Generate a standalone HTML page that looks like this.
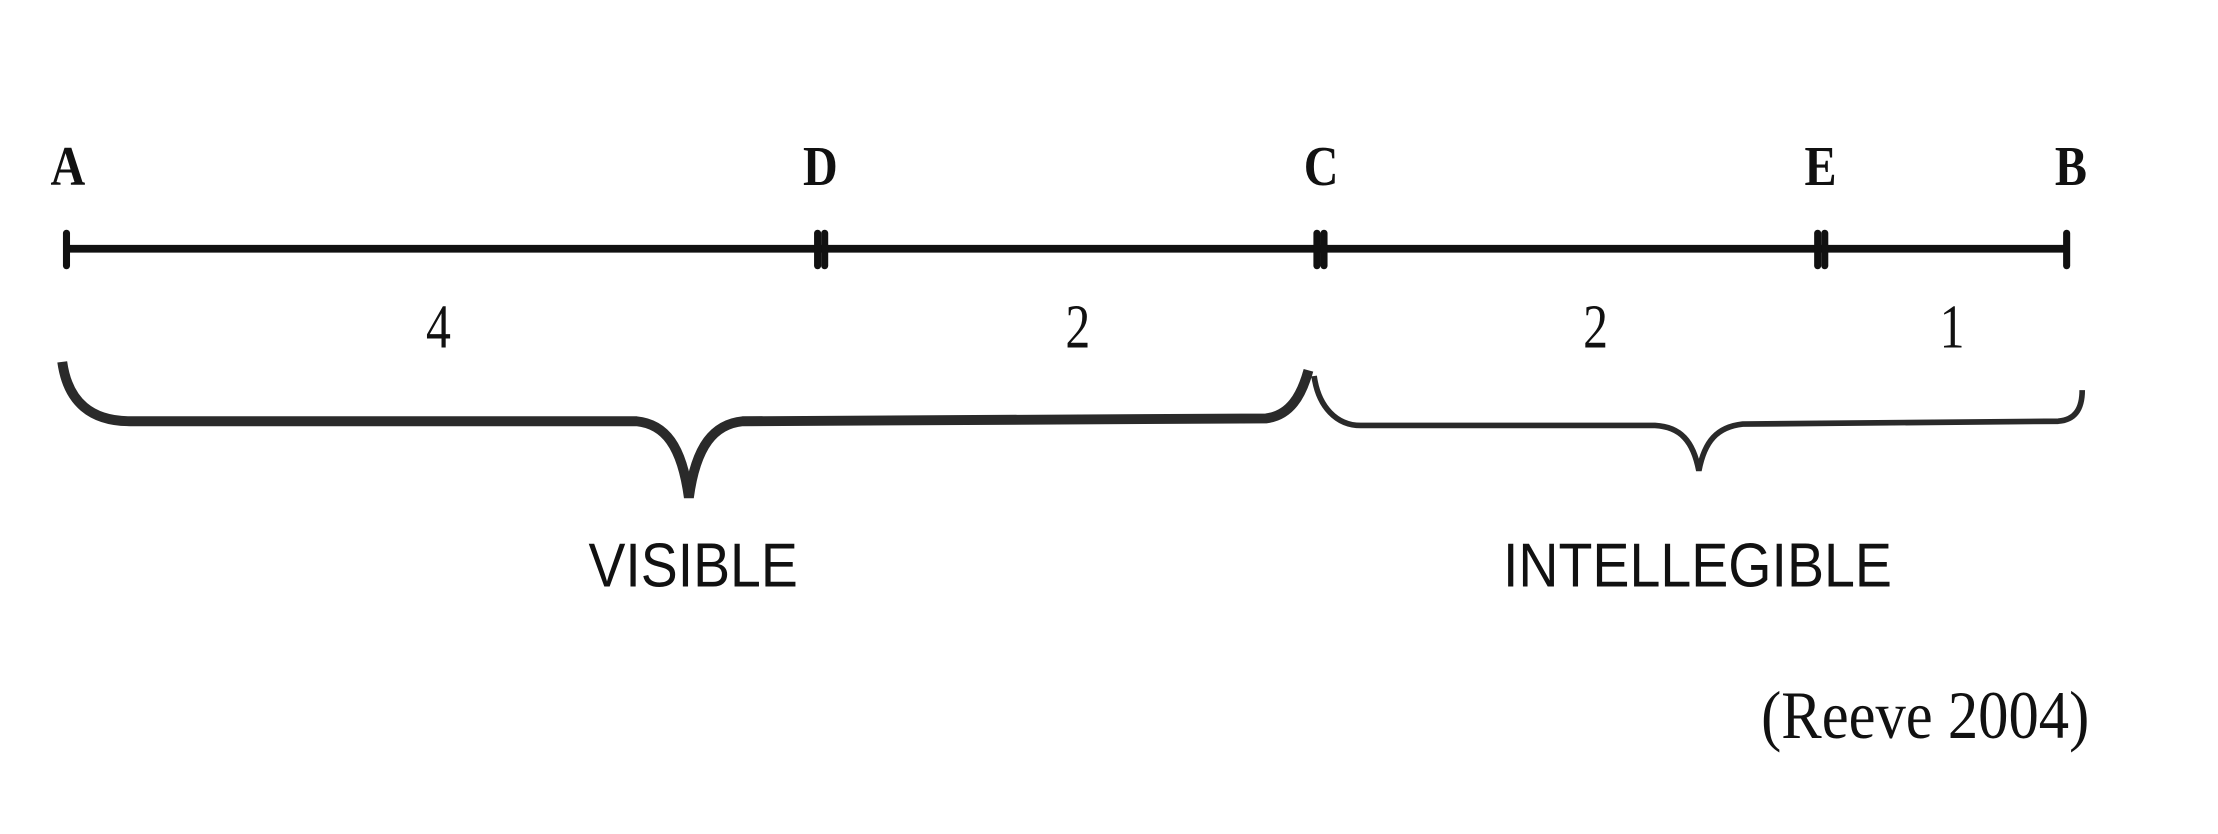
<!DOCTYPE html>
<html><head><meta charset="utf-8"><style>html,body{margin:0;padding:0;background:#fff}svg{display:block}</style></head>
<body>
<svg width="2218" height="834" viewBox="0 0 1568 590" preserveAspectRatio="none" xmlns="http://www.w3.org/2000/svg">
<rect width="1568" height="590" fill="#fff"/>
<g font-family="Liberation Serif, serif" font-weight="bold" font-size="40" fill="#111" text-anchor="middle">
<text x="48" y="131" transform="translate(48 0) scale(0.85 1) translate(-48 0)">A</text>
<text x="580" y="131" transform="translate(580 0) scale(0.85 1) translate(-580 0)">D</text>
<text x="934" y="131" transform="translate(934 0) scale(0.85 1) translate(-934 0)">C</text>
<text x="1287" y="131" transform="translate(1287 0) scale(0.85 1) translate(-1287 0)">E</text>
<text x="1464" y="131" transform="translate(1464 0) scale(0.85 1) translate(-1464 0)">B</text>
</g>
<line x1="47" y1="176" x2="1461" y2="176" stroke="#111" stroke-width="5.5"/>
<g stroke="#111" stroke-width="5" stroke-linecap="round">
<line x1="47" y1="165" x2="47" y2="188"/>
<line x1="578" y1="165" x2="578" y2="188"/>
<line x1="583" y1="165" x2="583" y2="188"/>
<line x1="931" y1="165" x2="931" y2="188"/>
<line x1="936" y1="165" x2="936" y2="188"/>
<line x1="1285" y1="165" x2="1285" y2="188"/>
<line x1="1290" y1="165" x2="1290" y2="188"/>
<line x1="1461" y1="165" x2="1461" y2="188"/>
</g>
<g font-family="Liberation Serif, serif" font-size="44" fill="#111" text-anchor="middle">
<text x="310" y="246" transform="translate(310 0) scale(0.8 1) translate(-310 0)">4</text>
<text x="762" y="246" transform="translate(762 0) scale(0.8 1) translate(-762 0)">2</text>
<text x="1128" y="246" transform="translate(1128 0) scale(0.8 1) translate(-1128 0)">2</text>
<text x="1380" y="246" transform="translate(1380 0) scale(0.8 1) translate(-1380 0)">1</text>
</g>
<path d="M44,256 C48,285 65,298 92,298 L450,298 C470,300 482,315 487,352 C492,315 505,300 525,298 L895,296 C912,294 920,280 925,262" fill="none" stroke="#2a2a2a" stroke-width="7"/>
<path d="M929,266 C932,288 945,301 962,301 L1170,301 C1188,302 1197,312 1201,333 C1205,312 1214,302 1232,300 L1455,298 C1468,297 1472,288 1472,276" fill="none" stroke="#2a2a2a" stroke-width="4"/>
<g font-family="Liberation Sans, sans-serif" font-size="44" fill="#111" text-anchor="middle">
<text x="490" y="415" textLength="148" lengthAdjust="spacingAndGlyphs">VISIBLE</text>
<text x="1200" y="415" textLength="275" lengthAdjust="spacingAndGlyphs">INTELLEGIBLE</text>
</g>
<text x="1477" y="522" font-family="Liberation Serif, serif" font-size="48" fill="#111" text-anchor="end" textLength="232" lengthAdjust="spacingAndGlyphs">(Reeve 2004)</text>
</svg>
</body></html>
